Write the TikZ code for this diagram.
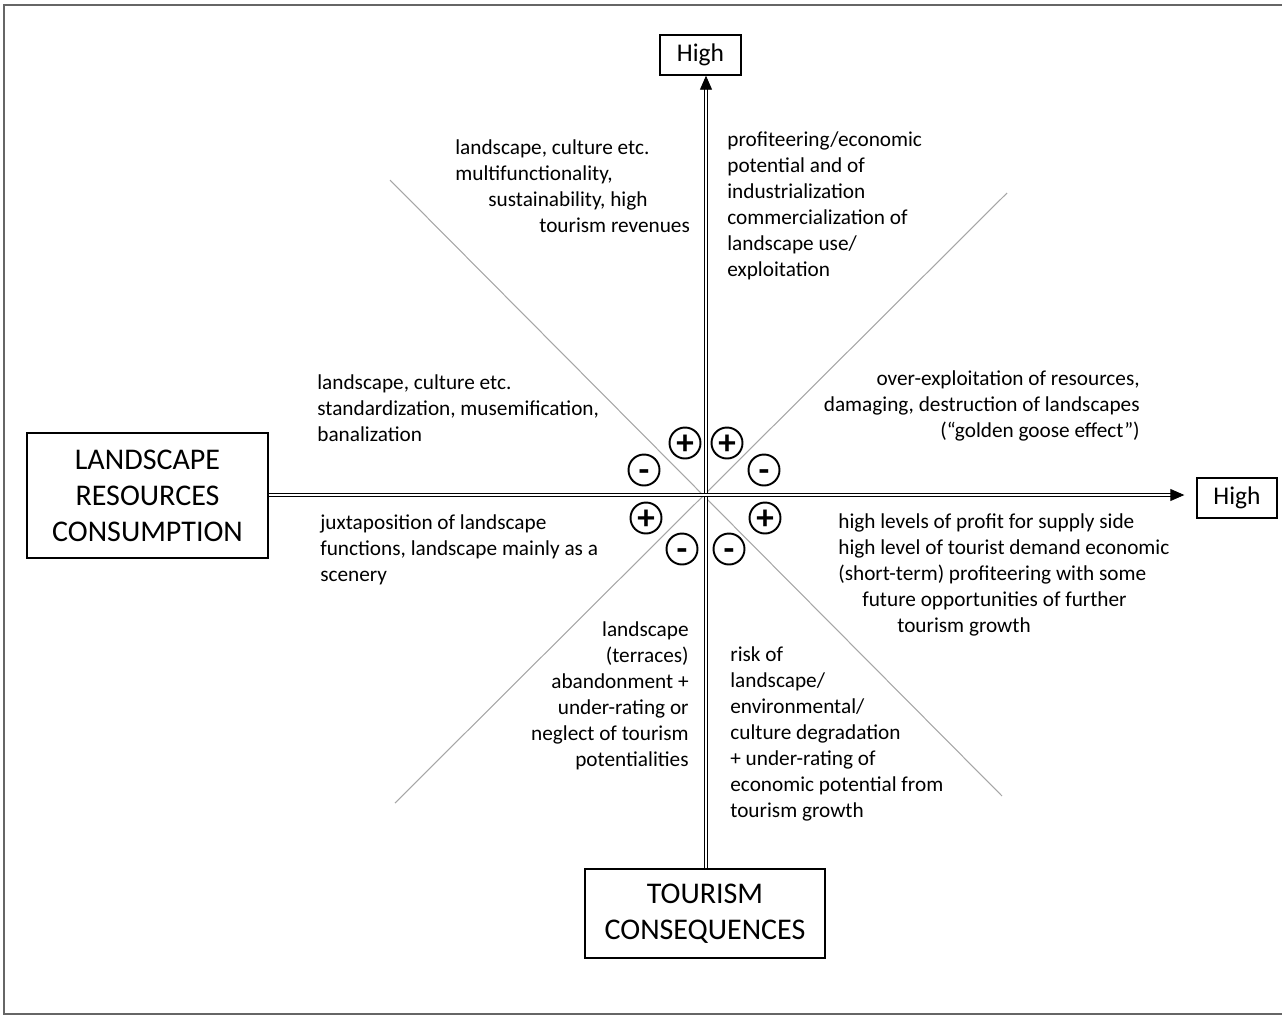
\documentclass[tikz,border=0pt]{standalone}
\usepackage{fontspec}
\setmainfont{Carlito}
\usetikzlibrary{arrows.meta}

\begin{document}
\begin{tikzpicture}[x=.02cm,y=-.02cm,
  box/.style={draw,line width=.8pt,inner sep=0,align=center},
  txt/.style={inner sep=0,font=\fontsize{12.1}{14.8}\selectfont},
  sgn/.style={draw,circle,line width=1.1pt,minimum size=.62cm,inner sep=0,text height=13.5pt,text depth=0pt,font=\fontsize{20}{20}\selectfont\bfseries},
  axis/.style={double,line width=.5pt,double distance=.8pt},
  diag/.style={gray!70,line width=.6pt}]
\useasboundingbox (0,0) rectangle (1282,1015);
\draw[gray!80!black,line width=1.2pt] (4,5) rectangle (1290,1014);
% boxes
\node[box,minimum width=1.62cm,minimum height=.8cm,font=\fontsize{14.5}{16}\selectfont] (highy) at (700.5,55) {High};
\node[box,minimum width=1.6cm,minimum height=.8cm,font=\fontsize{14.5}{16}\selectfont] (highx) at (1237,498) {High};
\node[box,minimum width=4.82cm,minimum height=2.5cm,font=\fontsize{17.1}{20.5}\selectfont] (lrc) at (147.5,495.5) {LANDSCAPE\\RESOURCES\\CONSUMPTION};
\node[box,minimum width=4.8cm,minimum height=1.78cm,font=\fontsize{17.1}{20.5}\selectfont] (tc) at (705,913.5) {TOURISM\\CONSEQUENCES};
\coordinate (O) at (706,495);
% axes and diagonals
\draw[diag] (390,180) -- (1002,796); \draw[diag] (395,803) -- (1007,193);
\draw[axis,-{Triangle[length=.28cm,width=.24cm]}] (O|-tc.north) -- (O|-highy.south);
\draw[axis,-{Triangle[length=.28cm,width=.24cm]},shorten >=.24cm] (lrc.east|-O) -- (highx.west|-O);
% signs
\node[sgn] (p1) at (685,443) {+}; \node[sgn] (p2) at (727,443) {+};
\node[sgn] (m1) at (644,470) {-}; \node[sgn] (m2) at (764,470) {-};
\node[sgn] (p3) at (646,518) {+}; \node[sgn] (p4) at (765,518) {+};
\node[sgn] (m3) at (682,549) {-}; \node[sgn] (m4) at (729,549) {-};
% texts
\node[txt,align=left,anchor=west] (tl) at (455,186) {landscape, culture etc.\\multifunctionality,\\\hspace*{.66cm}sustainability, high\\\hspace*{1.68cm}tourism revenues};
\node[txt,align=left,anchor=west] (tr) at (727,205.5) {profiteering/economic\\potential and of\\industrialization\\commercialization of\\landscape use/\\exploitation};
\node[txt,align=left,anchor=west] (lu) at (317,408) {landscape, culture etc.\\standardization, musemification,\\banalization};
\node[txt,align=right,anchor=east] (ru) at (1140,405.5) {over-exploitation of resources,\\damaging, destruction of landscapes\\(“golden goose effect”)};
\node[txt,align=left,anchor=west] (ll) at (320,550) {juxtaposition of landscape\\functions, landscape mainly as a\\scenery};
\node[txt,align=left,anchor=west] (rl) at (838,575) {high levels of profit for supply side\\high level of tourist demand economic\\(short-term) profiteering with some\\\hspace*{.48cm}future opportunities of further\\\hspace*{1.18cm}tourism growth};
\node[txt,align=right,anchor=east] (bl) at (689,695.5) {landscape\\(terraces)\hspace*{.34cm}\\abandonment +\\under-rating or\\neglect of tourism\\potentialities};
\node[txt,align=left,anchor=west] (br) at (730,733.5) {risk of\\landscape/\\environmental/\\culture degradation\\+ under-rating of\\economic potential from\\tourism growth};
\end{tikzpicture}
\end{document}
